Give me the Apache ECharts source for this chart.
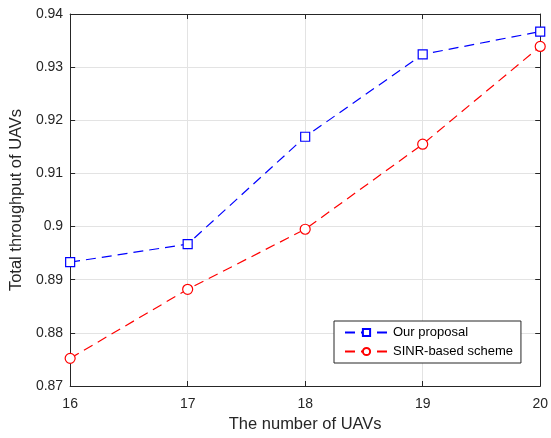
<!DOCTYPE html>
<html>
<head>
<meta charset="utf-8">
<script src="https://cdn.jsdelivr.net/npm/echarts@6/dist/echarts.min.js"></script>
<style>
  html, body { margin: 0; padding: 0; background: #fff; overflow: hidden; }
  #chart { width: 100vw; height: 100vh; }
</style>
</head>
<body>
<div id="chart"></div>
<script>
// Number of UAVs on the x axis
var uavCounts = [16, 17, 18, 19, 20];
// Total throughput for each scheme
var ourProposal = [0.8933, 0.8967, 0.9169, 0.9324, 0.9367];
var sinrBased   = [0.8752, 0.8882, 0.8995, 0.9155, 0.9339];
var seriesNames = ['Our proposal', 'SINR-based scheme'];

var textColor = '#262626';
var font = 'Liberation Sans, Arial, Helvetica, sans-serif';

function pairs(xs, ys) {
  return xs.map(function (x, i) { return [x, ys[i]]; });
}

var chart = echarts.init(document.getElementById('chart'));

var xBase = {
  type: 'value', min: 16, max: 20, interval: 1,
  axisLine: { show: true, onZero: false, lineStyle: { color: textColor, width: 1 } },
  axisTick: { show: true, inside: true, length: 5, lineStyle: { color: textColor } },
  splitLine: { show: false }
};
var yBase = {
  type: 'value', min: 0.87, max: 0.94, interval: 0.01,
  axisLine: { show: true, onZero: false, lineStyle: { color: textColor, width: 1 } },
  axisTick: { show: true, inside: true, length: 5, lineStyle: { color: textColor } },
  splitLine: { show: false }
};

chart.setOption({
  animation: false,
  backgroundColor: '#ffffff',
  textStyle: { fontFamily: font },
  grid: { left: 68, right: 7, top: 14, bottom: 49, containLabel: false },
  xAxis: [
    Object.assign({}, xBase, {
      position: 'bottom',
      name: 'The number of UAVs',
      nameLocation: 'middle',
      nameGap: 30,
      nameTextStyle: { color: textColor, fontSize: 16.5, fontFamily: font },
      axisLabel: { color: textColor, fontSize: 14, fontFamily: font, margin: 11 },
      splitLine: { show: true, lineStyle: { color: '#e3e3e3', width: 1 } }
    }),
    Object.assign({}, xBase, { position: 'top', axisLabel: { show: false } })
  ],
  yAxis: [
    Object.assign({}, yBase, {
      position: 'left',
      name: 'Total throughput of UAVs',
      nameLocation: 'middle',
      nameGap: 40,
      nameTextStyle: { color: textColor, fontSize: 16.5, fontFamily: font },
      axisLabel: { color: textColor, fontSize: 14, fontFamily: font, margin: 7 },
      splitLine: { show: true, lineStyle: { color: '#e3e3e3', width: 1 } }
    }),
    Object.assign({}, yBase, { position: 'right', axisLabel: { show: false } })
  ],
  legend: {
    orient: 'vertical',
    left: 334,
    top: 321,
    padding: [4, 8, 4, 10],
    itemGap: 4,
    itemWidth: 43,
    itemHeight: 9,
    backgroundColor: '#ffffff',
    borderColor: textColor,
    borderWidth: 1,
    borderRadius: 0,
    textStyle: { color: '#000', fontSize: 13, fontFamily: font, lineHeight: 15 },
    data: seriesNames
  },
  series: [
    {
      name: seriesNames[0],
      type: 'line',
      data: pairs(uavCounts, ourProposal),
      symbol: 'rect',
      symbolSize: 9,
      lineStyle: { color: '#0000ff', width: 1.2, type: [10, 6] },
      itemStyle: { color: '#ffffff', borderColor: '#0000ff', borderWidth: 1.2 },
      emphasis: { disabled: true }
    },
    {
      name: seriesNames[1],
      type: 'line',
      data: pairs(uavCounts, sinrBased),
      symbol: 'circle',
      symbolSize: 10,
      lineStyle: { color: '#ff0000', width: 1.2, type: [10, 6] },
      itemStyle: { color: '#ffffff', borderColor: '#ff0000', borderWidth: 1.2 },
      emphasis: { disabled: true }
    }
  ]
});
window.addEventListener('resize', function () { chart.resize(); });
</script>
</body>
</html>
